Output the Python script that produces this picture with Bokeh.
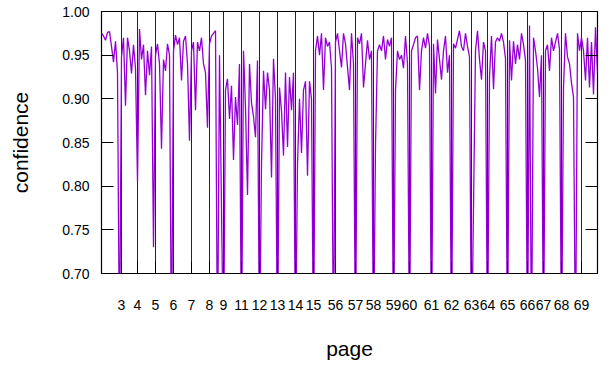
from bokeh.plotting import figure
from bokeh.models import Range1d, FixedTicker, LinearAxis, NumeralTickFormatter
from bokeh.embed import file_html
from bokeh.resources import INLINE

# page label shown at the sample index where that page starts
page_labels = ["3", "4", "5", "6", "7", "8", "9", "11", "12", "13", "14", "15",
               "56", "57", "58", "59", "60", "61", "62", "63", "64", "65", "66",
               "67", "68", "69"]
page_starts = [10, 18, 27, 36, 45, 54, 61, 70, 79, 88, 97, 106,
               117, 127, 136, 146, 154, 165, 175, 185, 193, 203, 213,
               221, 230, 240]

y_ticks = [0.70, 0.75, 0.80, 0.85, 0.90, 0.95, 1.00]

# per-line recognition confidence (values below 0.70 are off the chart)
confidence = [
    # page 2
    0.975, 0.972, 0.967, 0.976, 0.977, 0.960, 0.942, 0.966, 0.930, 0.600,
    # page 3
    0.948, 0.970, 0.892, 0.970, 0.955, 0.929, 0.962, 0.935,
    # page 4
    0.805, 0.980, 0.945, 0.962, 0.904, 0.955, 0.927, 0.960, 0.730,
    # page 5
    0.950, 0.963, 0.940, 0.843, 0.945, 0.932, 0.963, 0.950, 0.600,
    # page 6
    0.955, 0.973, 0.962, 0.970, 0.921, 0.966, 0.972, 0.940, 0.852,
    # page 7
    0.955, 0.965, 0.887, 0.965, 0.955, 0.970, 0.940, 0.930, 0.867,
    # page 8
    0.963, 0.972, 0.975, 0.978, 0.600, 0.950, 0.775,
    # page 9
    0.600, 0.910, 0.923, 0.877, 0.915, 0.830, 0.902, 0.870, 0.940,
    # page 11
    0.600, 0.955, 0.890, 0.790, 0.940, 0.895, 0.880, 0.856, 0.944,
    # page 12
    0.600, 0.825, 0.932, 0.888, 0.930, 0.910, 0.810, 0.946, 0.900,
    # page 13
    0.600, 0.913, 0.886, 0.835, 0.930, 0.845, 0.925, 0.887, 0.930,
    # page 14
    0.600, 0.825, 0.900, 0.838, 0.910, 0.920, 0.812, 0.920, 0.900,
    # page 15
    0.600, 0.955, 0.972, 0.950, 0.975, 0.910, 0.970, 0.960, 0.965, 0.935, 0.600,
    # page 56
    0.965, 0.975, 0.955, 0.936, 0.975, 0.963, 0.936, 0.910, 0.975, 0.940,
    # page 57
    0.600, 0.970, 0.963, 0.975, 0.913, 0.940, 0.967, 0.945, 0.955,
    # page 58
    0.600, 0.847, 0.955, 0.962, 0.955, 0.972, 0.945, 0.968, 0.960, 0.970,
    # page 59
    0.600, 0.910, 0.955, 0.945, 0.950, 0.935, 0.972, 0.940,
    # page 60
    0.600, 0.955, 0.962, 0.970, 0.972, 0.910, 0.955, 0.970, 0.958, 0.975, 0.960,
    # page 61
    0.600, 0.963, 0.906, 0.968, 0.945, 0.922, 0.955, 0.972, 0.930, 0.950,
    # page 62
    0.600, 0.963, 0.958, 0.968, 0.978, 0.960, 0.955, 0.975, 0.960, 0.948,
    # page 63
    0.600, 0.775, 0.955, 0.978, 0.945, 0.922, 0.965, 0.955,
    # page 64
    0.600, 0.925, 0.972, 0.911, 0.965, 0.970, 0.966, 0.975, 0.965, 0.946,
    # page 65
    0.600, 0.967, 0.921, 0.966, 0.940, 0.962, 0.945, 0.975, 0.962, 0.944,
    # page 66
    0.600, 0.984, 0.600, 0.970, 0.955, 0.935, 0.902, 0.950,
    # page 67
    0.600, 0.955, 0.962, 0.932, 0.970, 0.955, 0.965, 0.975, 0.957,
    # page 68
    0.600, 0.913, 0.975, 0.948, 0.940, 0.918, 0.902, 0.600, 0.975, 0.955,
    # page 69
    0.970, 0.955, 0.921, 0.970, 0.913, 0.965, 0.905, 0.982, 0.930,
]
sample = list(range(len(confidence)))

FONT = "Liberation Sans"

p = figure(width=604, height=363, output_backend="svg", toolbar_location=None,
           x_range=Range1d(0, len(confidence) - 1), y_range=Range1d(0.70, 1.00),
           min_border_left=101, min_border_right=7, min_border_top=11,
           min_border_bottom=90)
p.background_fill_color = "white"
p.border_fill_color = "white"
p.outline_line_color = "black"
p.outline_line_width = 1.2

p.line(sample, confidence, line_color="#9400D3", line_width=1.3)

xt = FixedTicker(ticks=page_starts)
p.xaxis.ticker = xt
p.xaxis.major_label_overrides = {s: l for s, l in zip(page_starts, page_labels)}
p.xgrid.ticker = xt
p.xgrid.grid_line_color = "black"
p.xgrid.grid_line_alpha = 0.85
p.xgrid.grid_line_width = 1
p.ygrid.grid_line_color = None

yt = FixedTicker(ticks=y_ticks)
p.yaxis.ticker = yt
p.yaxis.formatter = NumeralTickFormatter(format="0.00")

# mirrored tick marks on the right edge, without labels
right = LinearAxis(ticker=FixedTicker(ticks=y_ticks),
                   major_label_overrides={t: "" for t in y_ticks},
                   major_label_text_color=None, major_label_standoff=0)
p.add_layout(right, "right")

for ax in p.axis:
    ax.major_tick_in = 12
    ax.major_tick_out = 0
    ax.minor_tick_in = 0
    ax.minor_tick_out = 0
    ax.major_tick_line_color = "black"
    ax.axis_line_color = None
    ax.major_label_text_font = FONT
    ax.axis_label_text_font = FONT
    ax.axis_label_text_font_style = "normal"
    ax.axis_label_text_color = "black"

p.xaxis.major_label_text_color = "black"
p.xaxis.major_label_text_font_size = "14px"
p.xaxis.major_label_standoff = 26
p.xaxis.axis_label = "page"
p.xaxis.axis_label_text_font_size = "21px"
p.xaxis.axis_label_standoff = 24

p.yaxis[0].major_label_text_color = "black"
p.yaxis[0].major_label_text_font_size = "14px"
p.yaxis[0].major_label_standoff = 12
p.yaxis[0].axis_label = "confidence"
p.yaxis[0].axis_label_text_font_size = "21px"
p.yaxis[0].axis_label_standoff = 27

open("out.html", "w").write(file_html(p, INLINE))
